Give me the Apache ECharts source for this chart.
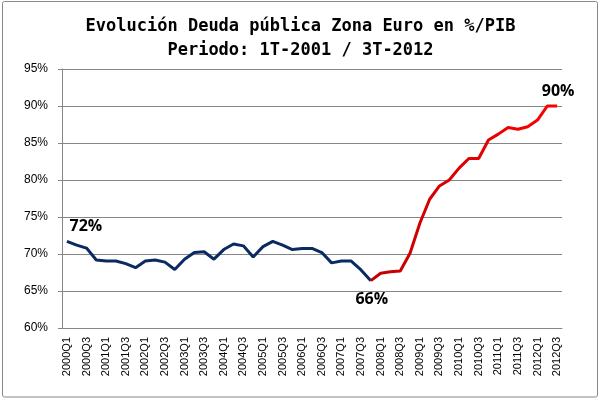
<!DOCTYPE html>
<html>
<head>
<meta charset="utf-8">
<script src="https://cdn.jsdelivr.net/npm/echarts@6/dist/echarts.min.js"></script>
<style>html,body{margin:0;padding:0;background:#fff}#c{width:601px;height:401px}</style>
</head>
<body>
<div id="c"></div>
<script>
var years = [2000,2001,2002,2003,2004,2005,2006,2007,2008,2009,2010,2011,2012];
var categories = [];
years.forEach(function(y){ for (var q=1;q<=4;q++){ if (y===2012 && q>3) break; categories.push(y+'Q'+q); } });

var deuda = [71.7,71.2,70.8,69.2,69.05,69.05,68.7,68.15,69.05,69.2,68.9,67.9,69.3,70.2,70.3,69.3,70.6,71.35,71.1,69.6,
  71.0,71.7,71.2,70.6,70.75,70.75,70.2,68.8,69.05,69.05,67.85,66.4,
  67.4,67.6,67.7,70.1,74.15,77.4,79.2,80.0,81.6,82.9,82.9,85.4,86.2,87.1,86.85,87.2,88.1,90.0,90.0];
var splitIndex = 31; // 2007Q4
var yTicks = {min:60, max:95, interval:5};

var blue = deuda.map(function(v,i){ return i<=splitIndex ? v : null; });
var red = deuda.map(function(v,i){ return i>=splitIndex ? v : null; });

var lblStyle = {show:true, fontFamily:'Open Sans', fontWeight:'bold', fontSize:16, color:'#000'};
blue[0] = {value: blue[0], label: Object.assign({}, lblStyle, {position:'top', offset:[19,-2], formatter:'72%'})};
red[splitIndex] = {value: red[splitIndex], label: Object.assign({}, lblStyle, {position:'bottom', offset:[1,6], formatter:'66%'})};
red[50] = {value: red[50], label: Object.assign({}, lblStyle, {position:'top', offset:[1,-2], formatter:'90%'})};

var chart = echarts.init(document.getElementById('c'));
chart.setOption({
  animation:false,
  backgroundColor:'#fff',
  title:{
    text:'Evolución Deuda pública Zona Euro en %/PIB\nPeriodo: 1T-2001 / 3T-2012',
    left:'center', top:10,
    textStyle:{fontFamily:'DejaVu Sans Mono', fontWeight:'bold', fontSize:17, lineHeight:24, color:'#000'}
  },
  graphic:[{type:'rect', shape:{x:2.5,y:1.5,width:595,height:395.5,r:2}, style:{fill:null, stroke:'#888', lineWidth:1}, silent:true}],
  grid:{left:62, right:39, top:69, bottom:73},
  xAxis:{
    type:'category', data:categories, boundaryGap:true,
    axisLine:{lineStyle:{color:'#868686', width:1}},
    axisTick:{interval:0, length:5, lineStyle:{color:'#868686'}},
    axisLabel:{interval:1, rotate:90, margin:9, fontFamily:'Liberation Sans', fontSize:11, color:'#000'}
  },
  yAxis:{
    type:'value', min:yTicks.min, max:yTicks.max, interval:yTicks.interval,
    axisLine:{show:true, lineStyle:{color:'#868686', width:1}},
    axisTick:{show:true, length:4, lineStyle:{color:'#868686'}},
    splitLine:{lineStyle:{color:'#868686', width:1}},
    axisLabel:{formatter:'{value}%', margin:14, fontFamily:'Liberation Sans', fontSize:12, color:'#000'}
  },
  series:[
    {type:'line', data:blue, symbol:'circle', symbolSize:0, showSymbol:true, connectNulls:false,
     lineStyle:{color:'#0a2a62', width:3}, itemStyle:{color:'#0a2a62'}, z:3},
    {type:'line', data:red, symbol:'circle', symbolSize:0, showSymbol:true, connectNulls:false,
     lineStyle:{width:3, color:new echarts.graphic.LinearGradient(0,0,1,0,[{offset:0,color:'#C00000'},{offset:1,color:'#FF0000'}])},
     itemStyle:{color:'#E00000'}, z:3}
  ]
});
</script>
</body>
</html>
